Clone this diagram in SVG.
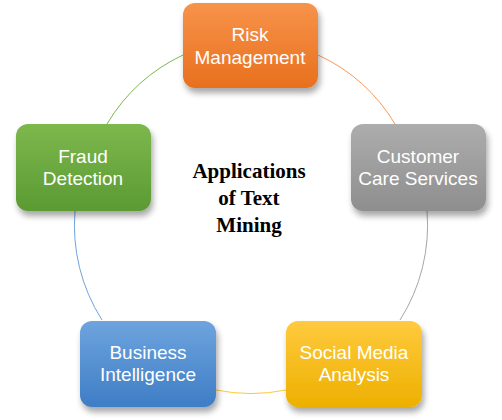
<svg xmlns="http://www.w3.org/2000/svg" width="502" height="420" viewBox="0 0 502 420">
<defs>
<linearGradient id="gOrange" x1="0" y1="0" x2="0" y2="1"><stop offset="0" stop-color="#F7934A"/><stop offset="1" stop-color="#E8701E"/></linearGradient>
<linearGradient id="gGray" x1="0" y1="0" x2="0" y2="1"><stop offset="0" stop-color="#ADADAD"/><stop offset="1" stop-color="#8E8E8E"/></linearGradient>
<linearGradient id="gGreen" x1="0" y1="0" x2="0" y2="1"><stop offset="0" stop-color="#7DB84D"/><stop offset="1" stop-color="#5B9A33"/></linearGradient>
<linearGradient id="gBlue" x1="0" y1="0" x2="0" y2="1"><stop offset="0" stop-color="#6EA4DE"/><stop offset="1" stop-color="#3E7DC5"/></linearGradient>
<linearGradient id="gYellow" x1="0" y1="0" x2="0" y2="1"><stop offset="0" stop-color="#FFCA3E"/><stop offset="1" stop-color="#EDB000"/></linearGradient>
<filter id="shadow" x="-20%" y="-20%" width="140%" height="150%">
<feGaussianBlur in="SourceAlpha" stdDeviation="3"/>
<feOffset dx="2" dy="5" result="b"/>
<feComponentTransfer><feFuncA type="linear" slope="0.35"/></feComponentTransfer>
<feMerge><feMergeNode/><feMergeNode in="SourceGraphic"/></feMerge>
</filter>
</defs>
<style>
.box{filter:url(#shadow);}
.lbl{font-family:"Liberation Sans",Arial,sans-serif;font-size:19px;fill:#FFFFFF;text-anchor:middle;}
.title{font-family:"Liberation Serif","Times New Roman",serif;font-size:21px;font-weight:bold;fill:#000000;text-anchor:middle;}
.arc{fill:none;stroke-width:1;}
</style>
<rect width="502" height="420" fill="#FFFFFF"/>
<g id="connectors">
<path class="arc" stroke="#F59A5A" d="M318,55 A176,176 0 0 1 395,124"/>
<path class="arc" stroke="#A6A6A6" d="M427,211 A176,176 0 0 1 400,320"/>
<path class="arc" stroke="#FFC83A" d="M286,390 A176,176 0 0 1 216,390"/>
<path class="arc" stroke="#6FA3DC" d="M102,320 A176,176 0 0 1 75,211"/>
<path class="arc" stroke="#7DB84D" d="M107,124 A176,176 0 0 1 183,55"/>
</g>
<g id="risk-management">
<rect class="box" x="183" y="3" width="135" height="85" rx="12" fill="url(#gOrange)"/>
<text class="lbl" x="250" y="41">Risk</text>
<text class="lbl" x="250" y="64">Management</text>
</g>
<g id="customer-care-services">
<rect class="box" x="351" y="124" width="135" height="87" rx="12" fill="url(#gGray)"/>
<text class="lbl" x="418" y="163">Customer</text>
<text class="lbl" x="418" y="185">Care Services</text>
</g>
<g id="fraud-detection">
<rect class="box" x="16" y="124" width="135" height="87" rx="12" fill="url(#gGreen)"/>
<text class="lbl" x="83" y="163">Fraud</text>
<text class="lbl" x="83" y="185">Detection</text>
</g>
<g id="business-intelligence">
<rect class="box" x="80" y="321" width="136" height="86" rx="12" fill="url(#gBlue)"/>
<text class="lbl" x="148" y="359">Business</text>
<text class="lbl" x="148" y="381">Intelligence</text>
</g>
<g id="social-media-analysis">
<rect class="box" x="286" y="321" width="136" height="86" rx="12" fill="url(#gYellow)"/>
<text class="lbl" x="354" y="359">Social Media</text>
<text class="lbl" x="354" y="381">Analysis</text>
</g>
<g id="center-title">
<text class="title" x="249" y="178">Applications</text>
<text class="title" x="249" y="205">of Text</text>
<text class="title" x="249" y="232">Mining</text>
</g>
</svg>
